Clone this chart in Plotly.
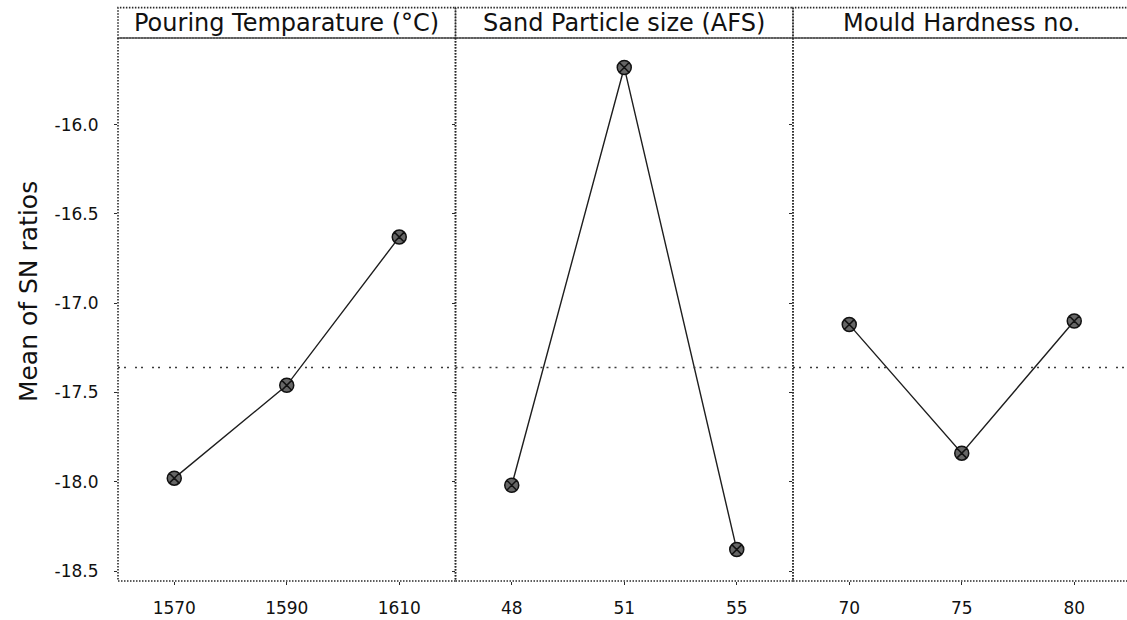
import plotly.graph_objects as go
from plotly.subplots import make_subplots

# ---- data ----
factors = ["Pouring Temparature (°C)", "Sand Particle size (AFS)", "Mould Hardness no."]
levels_temp = ["1570", "1590", "1610"]
sn_temp = [-17.98, -17.46, -16.63]
levels_sand = ["48", "51", "55"]
sn_sand = [-18.02, -15.68, -18.38]
levels_hard = ["70", "75", "80"]
sn_hard = [-17.12, -17.84, -17.10]
grand_mean = -17.36
y_ticks = [-16.0, -16.5, -17.0, -17.5, -18.0, -18.5]
y_title = "Mean of SN ratios"

levels = [levels_temp, levels_sand, levels_hard]
values = [sn_temp, sn_sand, sn_hard]

FONT = "DejaVu Sans"
INK = "#111111"
DOT = "#2a2a2a"

W_PLOT = 1009.0          # plot-area width in px (1127 - left margin)
PANEL = 337.5            # panel width in px
domains = [[0.0, PANEL / W_PLOT], [PANEL / W_PLOT, 2 * PANEL / W_PLOT], [2 * PANEL / W_PLOT, 1.0]]
frame_x1 = [PANEL / W_PLOT, 2 * PANEL / W_PLOT, 3 * PANEL / W_PLOT]
step = PANEL / 3.0
ranges = [[-0.5, 2.5], [-0.5, 2.5], [-0.5, -0.5 + (W_PLOT - 2 * PANEL) / step]]

fig = make_subplots(rows=1, cols=3, shared_yaxes=True, horizontal_spacing=0)

for i, (lv, vals) in enumerate(zip(levels, values), start=1):
    fig.add_trace(go.Scatter(
        x=lv, y=vals, mode="lines+markers",
        line=dict(color="#1e1e1e", width=1.4),
        marker=dict(symbol="circle-x", size=14, color="#666666",
                    line=dict(color="#111111", width=1.5)),
        showlegend=False, hoverinfo="x+y"), row=1, col=i)
    fig.update_xaxes(type="category", categoryorder="array", categoryarray=lv,
                     domain=domains[i - 1], range=ranges[i - 1],
                     showgrid=False, zeroline=False,
                     showline=False, ticks="outside", ticklen=3, tickwidth=1,
                     tickcolor=DOT, ticklabelstandoff=9,
                     tickfont=dict(family=FONT, size=17, color=INK),
                     automargin=False, row=1, col=i)
    fig.add_hline(y=grand_mean, line=dict(color="#3a3a3a", width=1.6, dash="2px,4px,2px,9px"),
                  row=1, col=i)

fig.update_yaxes(range=[-18.556, -15.515], tickvals=y_ticks,
                 ticktext=[f"{v:.1f}" for v in y_ticks],
                 showgrid=False, zeroline=False, showline=False,
                 ticks="outside", ticklen=3, tickwidth=1, tickcolor=DOT,
                 ticklabelstandoff=12,
                 tickfont=dict(family=FONT, size=17, color=INK),
                 automargin=False)

# panel frames and header strips (dotted)
hdr_h = 30.4 / 543.0
for i in range(3):
    x0 = domains[i][0]
    x1 = frame_x1[i]
    fig.add_shape(type="rect", xref="paper", yref="paper", x0=x0, x1=x1, y0=0, y1=1,
                  line=dict(color=DOT, width=1.6, dash="1.5px,1.5px"), layer="below")
    fig.add_shape(type="rect", xref="paper", yref="paper", x0=x0, x1=x1, y0=1, y1=1 + hdr_h,
                  line=dict(color=DOT, width=1.6, dash="1.5px,1.5px"), layer="below")
    fig.add_annotation(x=(x0 + x1) / 2, y=1 + hdr_h / 2, xref="paper", yref="paper",
                       text=factors[i], showarrow=False, xanchor="center", yanchor="middle",
                       font=dict(family=FONT, size=24, color=INK))

fig.add_annotation(x=-90 / W_PLOT, y=0.532, xref="paper", yref="paper", text=y_title,
                   textangle=-90, showarrow=False, xanchor="center", yanchor="middle",
                   font=dict(family=FONT, size=25, color=INK))

fig.update_layout(width=1127, height=620, autosize=False,
                  margin=dict(l=118, r=0, t=38, b=39),
                  paper_bgcolor="white", plot_bgcolor="white")

fig.write_html("out.html")
